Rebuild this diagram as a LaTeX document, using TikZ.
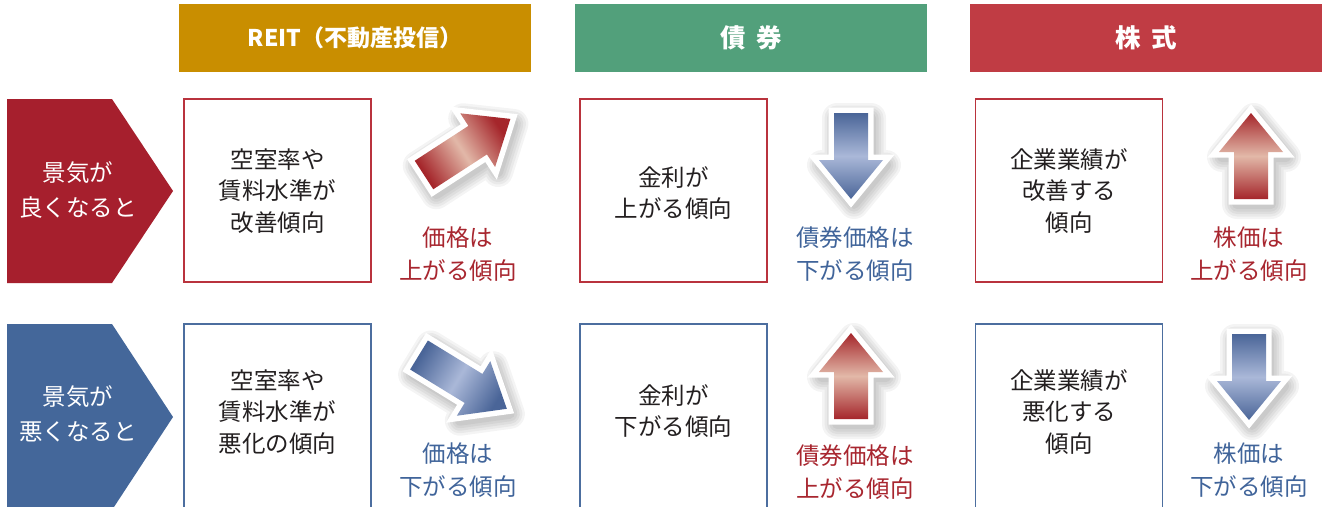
\documentclass[tikz,border=0pt]{standalone}
\usepackage{fontspec}
\setmainfont{Noto Sans CJK JP}
\definecolor{hgold}{HTML}{C98E00}
\definecolor{hgreen}{HTML}{52A07B}
\definecolor{hred}{HTML}{C03C44}
\definecolor{pred}{HTML}{A61F2D}
\definecolor{pblue}{HTML}{44679A}
\definecolor{bred}{HTML}{B9333D}
\definecolor{bblue}{HTML}{4C6E9F}
\definecolor{lred}{HTML}{A8262F}
\definecolor{lblue}{HTML}{40649A}
\definecolor{txt}{HTML}{231F20}
\definecolor{ardark}{HTML}{A5262B}
\definecolor{arlight}{HTML}{E2B8A8}
\definecolor{abdark}{HTML}{4A6598}
\definecolor{ablight}{HTML}{AAB8D8}
\tikzset{
  hdr/.style={fill=#1, minimum width=352pt, minimum height=68pt, inner sep=0pt, text=white, font=\fontsize{23}{28}\selectfont\bfseries},
  hdrbig/.style={hdr=#1, font=\fontsize{25.5}{30}\selectfont\bfseries},
  boxr/.style={draw=bred, line width=1.4pt, fill=white, minimum width=187pt, minimum height=183pt, inner sep=0pt},
  boxb/.style={draw=bblue, line width=1.4pt, fill=white, minimum width=187pt, minimum height=200pt, inner sep=0pt},
  btext/.style={align=center, text=txt, font=\fontsize{23.5}{31.7}\selectfont},
  ptext/.style={align=center, text=white, font=\fontsize{23.5}{35.5}\selectfont},
  ltext/.style={align=center, text=#1, font=\fontsize{23.5}{33}\selectfont},
  redshade/.style={top color=ardark, bottom color=ardark, middle color=arlight},
  blueshade/.style={top color=abdark, bottom color=abdark, middle color=ablight},
  shadowlayer/.style={draw=black, draw opacity=0.045, line width=#1, line join=round},
}
\newcommand\arrpath[1]{(-17,0) -- (17,0) -- (17,#1-39) -- (32,#1-39) -- (0,#1) -- (-32,#1-39) -- (-17,#1-39) -- cycle}
% #1 x, #2 y (tail centre), #3 rotation, #4 length, #5 shading style
\newcommand\fatarr[5]{%
  \begin{scope}[shift={(#1,#2)}, shift={(3,5)}, x=1pt, y=1pt, rotate=#3]
    \foreach \w in {30pt,25pt,20pt,15pt,10pt}{\draw[shadowlayer=\w] \arrpath{#4};}
  \end{scope}
  \begin{scope}[shift={(#1,#2)}, x=1pt, y=1pt, rotate=#3]
    \path[draw=white, fill=white, line width=11pt, line join=miter] \arrpath{#4};
    \shade[#5, shading angle=#3] \arrpath{#4};
  \end{scope}}
\begin{document}
\begin{tikzpicture}[x=1pt, y=-1pt]
\useasboundingbox (0,0) rectangle (1324,506);
\clip (0,0) rectangle (1324,506);
\fill[white] (0,0) rectangle (1324,506);
% headers
\node[hdr=hgold]  (h1) at (355,38) {REIT（不動産投信）};
\node[hdrbig=hgreen] (h2) at (751,38) {債\hspace{11pt}券\hspace{6pt}};
\node[hdrbig=hred]   (h3) at (1146,38) {株\hspace{11pt}式\hspace{6pt}};
% pentagons
\fill[pred]  (7,99) -- (112,99) -- (173,191) -- (112,283) -- (7,283) -- cycle;
\node[ptext] (p1) at (78,190) {景気が\\良くなると};
\fill[pblue] (7,324) -- (112,324) -- (173,417) -- (112,510) -- (7,510) -- cycle;
\node[ptext] (p2) at (78,414) {景気が\\悪くなると};
% boxes top
\node[boxr] (b11) at (277.5,190.5) {};
\node[boxr] (b12) at (673.5,190.5) {};
\node[boxr] (b13) at (1069,190.5) {};
\node[btext] (t11) at (277.5,191) {空室率や\\賃料水準が\\改善傾向};
\node[btext] (t12) at (673.5,193) {金利が\\上がる傾向};
\node[btext] (t13) at (1069,191) {企業業績が\\改善する\\傾向};
% boxes bottom
\node[boxb] (b21) at (277.5,424) {};
\node[boxb] (b22) at (673.5,424) {};
\node[boxb] (b23) at (1069,424) {};
\node[btext] (t21) at (277.5,412) {空室率や\\賃料水準が\\悪化の傾向};
\node[btext] (t22) at (673.5,411) {金利が\\下がる傾向};
\node[btext] (t23) at (1069,412) {企業業績が\\悪化する\\傾向};
% arrows
\fatarr{424}{175}{-57}{103}{redshade}
\fatarr{851}{113}{180}{86}{blueshade}
\fatarr{1251}{199}{0}{86}{redshade}
\fatarr{419}{355}{-121.5}{103}{blueshade}
\fatarr{851}{419}{0}{86}{redshade}
\fatarr{1249}{334}{180}{86}{blueshade}
% labels
\node[ltext=lred]  (l11) at (458,254) {価格は\\上がる傾向};
\node[ltext=lblue] (l12) at (855,254) {債券価格は\\下がる傾向};
\node[ltext=lred]  (l13) at (1249,254) {株価は\\上がる傾向};
\node[ltext=lblue] (l21) at (458,470) {価格は\\下がる傾向};
\node[ltext=lred]  (l22) at (855,472) {債券価格は\\上がる傾向};
\node[ltext=lblue] (l23) at (1249,470) {株価は\\下がる傾向};
\end{tikzpicture}
\end{document}
